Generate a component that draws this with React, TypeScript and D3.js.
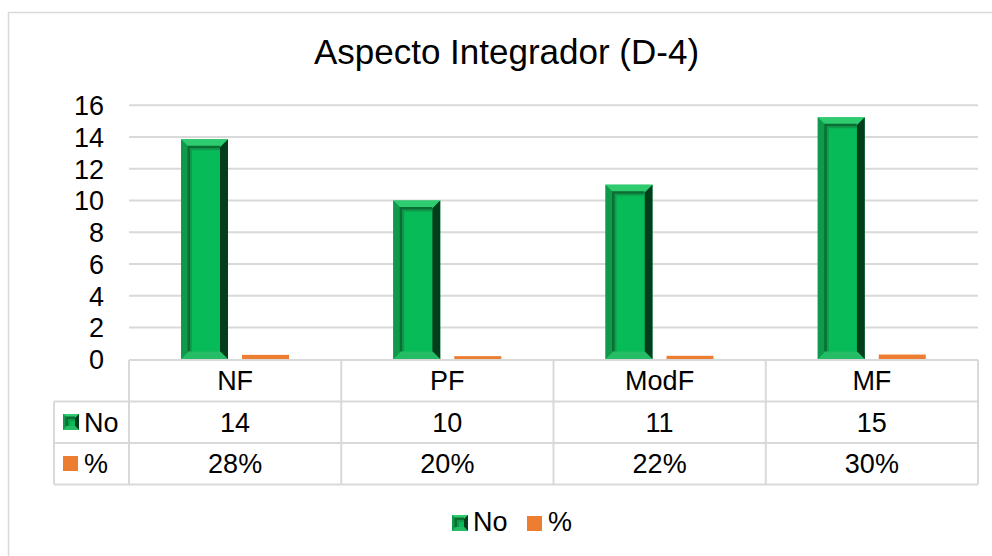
import React from 'react';
import * as d3 from 'd3';

const categories = ['NF', 'PF', 'ModF', 'MF'];
const seriesNames = ['No', '%'];
const countValues = [13.86, 10, 11, 15.24];
const percentValues = [0.28, 0.2, 0.22, 0.3];
const countLabels = ['14', '10', '11', '15'];
const percentLabels = ['28%', '20%', '22%', '30%'];
const yTicks = [0, 2, 4, 6, 8, 10, 12, 14, 16];

const W = 992;
const H = 556;
const FONT = 'Liberation Sans, Arial, sans-serif';
const GRID = '#d9d9d9';
const ORANGE = '#ed7d31';

// bar with excel-ish bevel
function BevelBar({ x, y, w, h }: { x: number; y: number; w: number; h: number }) {
  const b = Math.min(8, w / 4, h / 2);
  const x2 = x + w;
  const y2 = y + h;
  const pts = (a: number[][]) => a.map(p => p.join(',')).join(' ');
  return (
    <g>
      <rect x={x} y={y} width={w} height={h} fill="#07b552" />
      <polygon points={pts([[x, y], [x2, y], [x2 - b, y + b], [x + b, y + b]])} fill="#2fcb6f" />
      <polygon points={pts([[x, y], [x + b, y + b], [x + b, y2 - b], [x, y2]])} fill="#0e9a4a" />
      <polygon points={pts([[x2, y], [x2, y2], [x2 - b, y2 - b], [x2 - b, y + b]])} fill="#043d1c" />
      <polygon points={pts([[x, y2], [x + b, y2 - b], [x2 - b, y2 - b], [x2, y2]])} fill="#24bd66" />
      <rect x={x + b} y={y + b} width={Math.max(0, w - 2 * b)} height={Math.max(0, h - 2 * b)} fill="#07bb58" />
      <path d={`M${x + b},${y2 - b} V${y + b} H${x2 - b}`} fill="none" stroke="#0a6e35" strokeWidth={3} />
      <path d={`M${x + b + 2},${y2 - b} V${y + b + 2} H${x2 - b}`} fill="none" stroke="#109a4b" strokeWidth={2} />
    </g>
  );
}

export default function App() {
  const left = 129;
  const right = 978;
  const y = d3.scaleLinear().domain([0, 16]).range([359.3, 105.3]);
  const x = d3.scaleBand<string>().domain(categories).range([left, right]);
  const inner = d3.scaleBand<string>().domain(seriesNames).range([52, 160]).paddingInner(0.23);
  const bw = inner.bandwidth();

  const tHead = 360;
  const tRow1 = 401.5;
  const tRow2 = 443;
  const tBot = 484.5;
  const labelLeft = 54;

  return (
    <svg width={W} height={H} style={{ position: 'absolute', left: 0, top: 0, background: '#fff' }}>
      <rect x={0} y={0} width={W} height={H} fill="#fff" />
      <rect x={8.5} y={12.5} width={W + 20} height={H + 20} fill="none" stroke={GRID} strokeWidth={1.5} />

      <text x={506.5} y={64} textAnchor="middle" fontFamily={FONT} fontSize={35} fill="#000">
        Aspecto Integrador (D-4)
      </text>

      {yTicks.map(t => (
        <g key={t}>
          {t > 0 && <line x1={left} x2={right} y1={y(t)} y2={y(t)} stroke={GRID} strokeWidth={2} />}
          <text x={104} y={y(t)} dy="0.36em" textAnchor="end" fontFamily={FONT} fontSize={27} fill="#000">
            {t}
          </text>
        </g>
      ))}

      {categories.map((c, i) => {
        const x0 = x(c)!;
        const yc = y(countValues[i]);
        const yp = y(percentValues[i]);
        return (
          <g key={c}>
            <BevelBar x={x0 + inner('No')!} y={yc} w={bw} h={y(0) - yc} />
            <rect x={x0 + inner('%')!} y={yp} width={bw} height={y(0) - yp} fill={ORANGE} />
          </g>
        );
      })}

      {/* data table */}
      <g stroke={GRID} strokeWidth={2} fill="none">
        <line x1={left} x2={right} y1={tHead} y2={tHead} />
        <line x1={labelLeft} x2={right} y1={tRow1} y2={tRow1} />
        <line x1={labelLeft} x2={right} y1={tRow2} y2={tRow2} />
        <line x1={labelLeft} x2={right} y1={tBot} y2={tBot} />
        <line x1={labelLeft} x2={labelLeft} y1={tRow1} y2={tBot} />
        {categories.map(c => (
          <line key={c} x1={x(c)!} x2={x(c)!} y1={tHead} y2={tBot} />
        ))}
        <line x1={right} x2={right} y1={tHead} y2={tBot} />
      </g>
      {categories.map((c, i) => {
        const cx = x(c)! + x.bandwidth() / 2;
        return (
          <g key={c} fontFamily={FONT} fontSize={27} textAnchor="middle" fill="#000">
            <text x={cx} y={390}>{c}</text>
            <text x={cx} y={432}>{countLabels[i]}</text>
            <text x={cx} y={473}>{percentLabels[i]}</text>
          </g>
        );
      })}
      <BevelBar x={63} y={414} w={16} h={16} />
      <text x={84} y={432} fontFamily={FONT} fontSize={27} fill="#000">{seriesNames[0]}</text>
      <rect x={63} y={456} width={15} height={15} fill={ORANGE} />
      <text x={84} y={473} fontFamily={FONT} fontSize={27} fill="#000">{seriesNames[1]}</text>

      {/* legend */}
      <BevelBar x={452} y={515} w={16} h={16} />
      <text x={473} y={531} fontFamily={FONT} fontSize={27} fill="#000">{seriesNames[0]}</text>
      <rect x={527} y={516} width={15} height={15} fill={ORANGE} />
      <text x={548} y={531} fontFamily={FONT} fontSize={27} fill="#000">{seriesNames[1]}</text>
    </svg>
  );
}
